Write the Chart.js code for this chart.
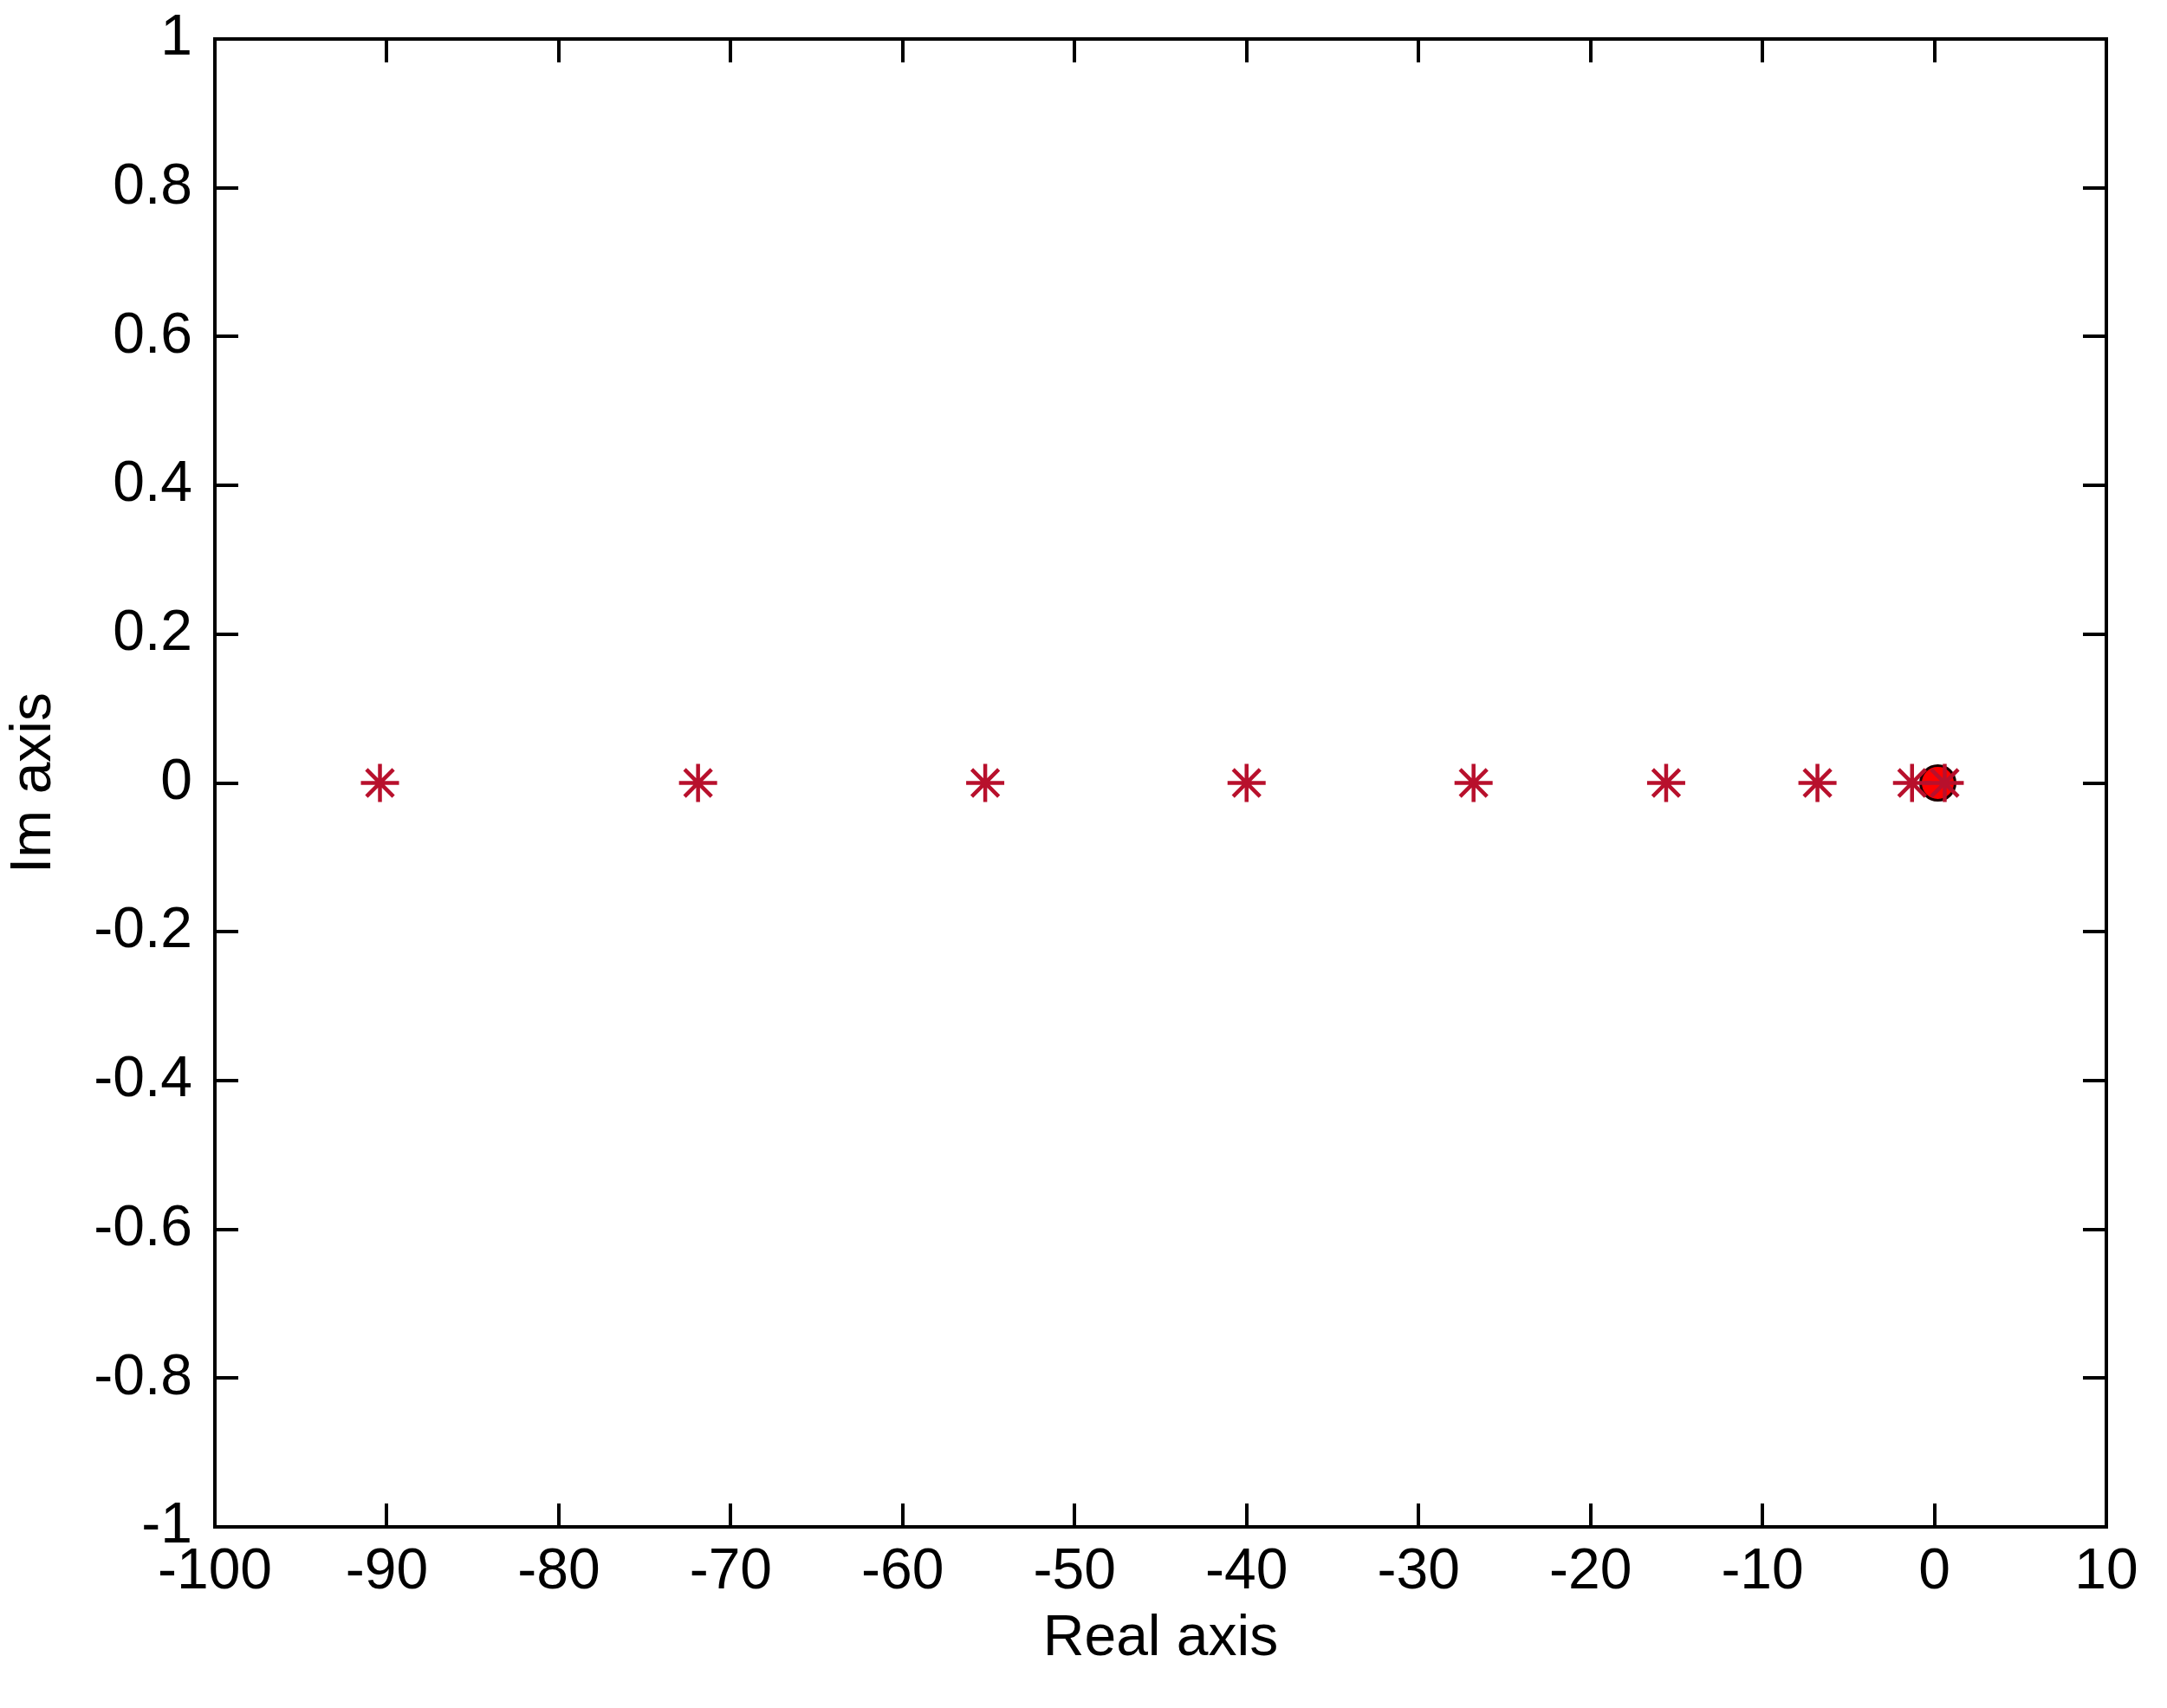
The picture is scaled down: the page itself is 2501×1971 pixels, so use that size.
<!DOCTYPE html>
<html>
<head>
<meta charset="utf-8">
<script src="https://cdn.jsdelivr.net/npm/chart.js@4.4.1/dist/chart.umd.min.js"></script>
<style>
  html, body { margin: 0; padding: 0; background: #ffffff; }
  #c { display: block; }
</style>
</head>
<body>
<canvas id="c" width="2501" height="1971"></canvas>
<script>
// ---- data ----
const starX = [-90.4, -71.9, -55.2, -40.0, -26.8, -15.6, -6.8, -1.3, 0.6];
const starY = [0, 0, 0, 0, 0, 0, 0, 0, 0];
const circleX = [0.2];
const circleY = [0];
const xTicks = [-100, -90, -80, -70, -60, -50, -40, -30, -20, -10, 0, 10];
const xTickLabels = ['-100', '-90', '-80', '-70', '-60', '-50', '-40', '-30', '-20', '-10', '0', '10'];
const yTicks = [-1, -0.8, -0.6, -0.4, -0.2, 0, 0.2, 0.4, 0.6, 0.8, 1];
const yTickLabels = ['-1', '-0.8', '-0.6', '-0.4', '-0.2', '0', '0.2', '0.4', '0.6', '0.8', '1'];
const xTitle = 'Real axis';
const yTitle = 'Im axis';

const FONT = { family: '"Liberation Sans", Arial, sans-serif', size: 66 };

const framePlugin = {
  id: 'frame',
  afterDraw(chart) {
    const { ctx, chartArea: a, scales } = chart;
    const L = 27;
    ctx.save();
    ctx.strokeStyle = '#000';
    ctx.lineWidth = 4;
    ctx.beginPath();
    scales.x.ticks.forEach(t => {
      const px = Math.round(scales.x.getPixelForValue(t.value));
      ctx.moveTo(px, a.bottom); ctx.lineTo(px, a.bottom - L);
      ctx.moveTo(px, a.top); ctx.lineTo(px, a.top + L);
    });
    scales.y.ticks.forEach(t => {
      const py = Math.round(scales.y.getPixelForValue(t.value));
      ctx.moveTo(a.left, py); ctx.lineTo(a.left + L, py);
      ctx.moveTo(a.right, py); ctx.lineTo(a.right - L, py);
    });
    ctx.stroke();
    ctx.strokeRect(a.left, a.top, a.right - a.left, a.bottom - a.top);
    ctx.restore();
  }
};

function zeroPad(s) { s.paddingTop = 0; s.paddingBottom = 0; s.paddingLeft = 0; s.paddingRight = 0; }

new Chart(document.getElementById('c'), {
  type: 'scatter',
  data: {
    datasets: [
      {
        data: starX.map((x, i) => ({ x, y: starY[i] })),
        pointStyle: 'star',
        pointRadius: 22,
        borderColor: '#b8102c',
        backgroundColor: '#b8102c',
        borderWidth: 4.5,
        showLine: false
      },
      {
        data: circleX.map((x, i) => ({ x, y: circleY[i] })),
        pointStyle: 'circle',
        pointRadius: 20,
        borderColor: '#1a0000',
        backgroundColor: '#ff0000',
        borderWidth: 3,
        showLine: false
      }
    ]
  },
  options: {
    responsive: false,
    animation: false,
    events: [],
    layout: { padding: { top: 45, right: 70, left: 0, bottom: 0 } },
    plugins: { legend: { display: false }, tooltip: { enabled: false } },
    scales: {
      x: {
        type: 'linear',
        position: 'bottom',
        min: -100, max: 10,
        afterBuildTicks: s => { s.ticks = xTicks.map(v => ({ value: v })); },
        afterFit: s => { s.height = 209; zeroPad(s); },
        ticks: {
          callback: (v, i) => xTickLabels[i],
          font: FONT, color: '#000', padding: 13, maxRotation: 0, autoSkip: false
        },
        grid: { display: false, drawTicks: false },
        border: { display: false },
        title: { display: true, text: xTitle, font: FONT, color: '#000', padding: { top: 0, bottom: 40 } }
      },
      y: {
        type: 'linear',
        position: 'left',
        min: -1, max: 1,
        afterBuildTicks: s => { s.ticks = yTicks.map(v => ({ value: v })); },
        afterFit: s => { s.width = 248; zeroPad(s); },
        ticks: {
          callback: (v, i) => yTickLabels[i],
          font: FONT, color: '#000', padding: 26, autoSkip: false
        },
        grid: { display: false, drawTicks: false },
        border: { display: false },
        title: { display: true, text: yTitle, font: FONT, color: '#000', padding: { top: 0, bottom: 0 } }
      }
    }
  },
  plugins: [framePlugin]
});
</script>
</body>
</html>
